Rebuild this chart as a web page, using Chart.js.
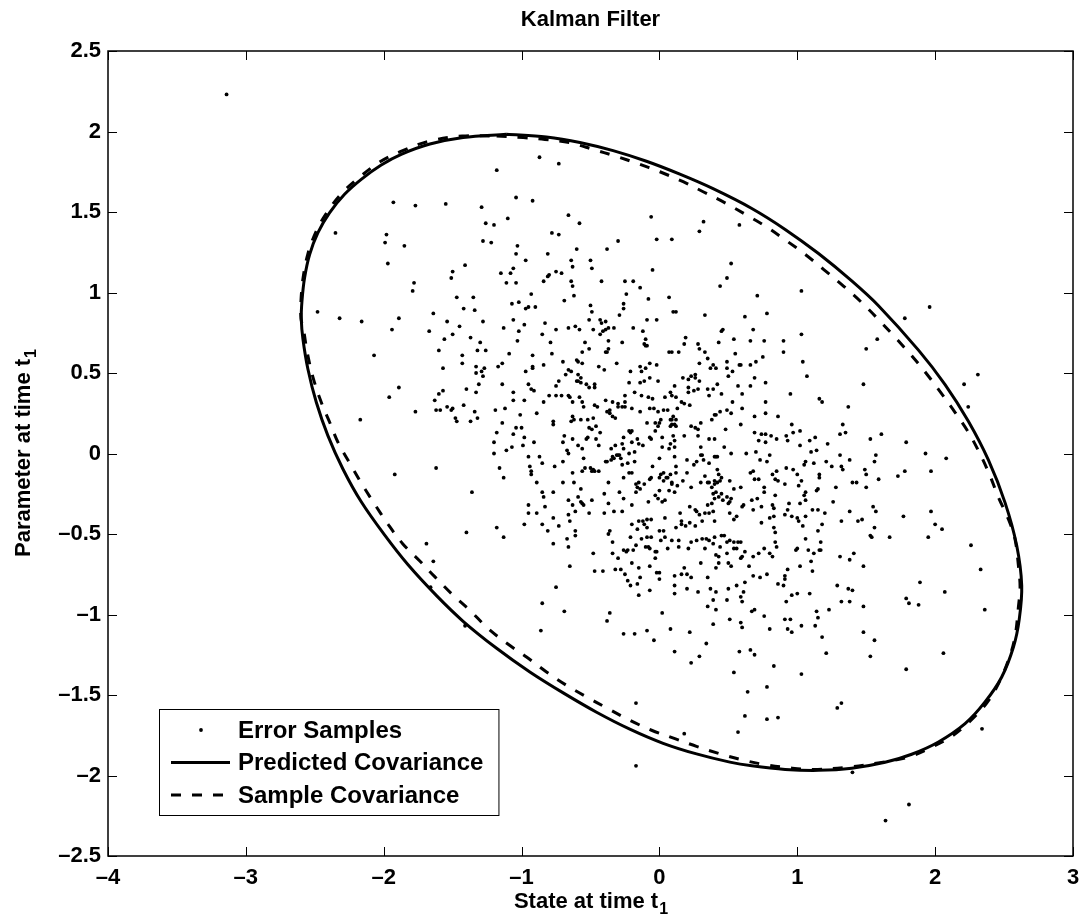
<!DOCTYPE html>
<html>
<head>
<meta charset="utf-8">
<script src="https://cdn.jsdelivr.net/npm/chart.js@4.4.1/dist/chart.umd.min.js"></script>
<style>
  html, body { margin: 0; padding: 0; background: #fff; }
</style>
</head>
<body>
<canvas id="kalmanChart" width="1090" height="921"></canvas>
<script>
// error samples [state, parameter]
const errorSamples = [
  [-3.14,2.23],[-1.93,1.56],[-1.77,1.54],[-2.35,1.37],[-1.98,1.36],[-1.99,1.31],[-1.85,1.29],[-1.97,1.18],[-1.78,1.06],[-1.79,1.01],
  [-2.48,0.88],[-2.32,0.84],[-1.89,0.84],[-2.16,0.82],[-1.94,0.77],[-1.67,0.76],[-2.07,0.61],[-1.89,0.41],[-1.96,0.35],[-1.77,0.26],
  [-2.17,0.21],[-1.92,-0.13],[-1.69,-0.56],[-1.66,-0.83],[-1.41,-1.07],
  [-0.87,1.84],[-0.73,1.80],[-1.18,1.76],[-1.55,1.55],[-1.04,1.59],[-0.92,1.57],[-1.29,1.53],[-0.66,1.48],[-1.10,1.46],[-1.26,1.43],
  [-1.20,1.42],[-0.58,1.43],[-0.06,1.47],[0.32,1.44],[0.29,1.38],[0.58,1.42],[-0.78,1.37],[-0.73,1.36],[-1.28,1.32],[-1.22,1.31],
  [-0.30,1.32],[-0.02,1.33],[0.09,1.33],[-0.38,1.27],[-0.60,1.27],[-1.03,1.29],[-1.04,1.24],[-0.81,1.24],[-0.97,1.20],[-0.64,1.20],
  [-0.50,1.20],[-1.41,1.17],[-1.50,1.13],[-1.51,1.09],[-1.15,1.12],[-1.08,1.12],[-1.06,1.15],[-0.63,1.16],[-0.49,1.15],[-0.05,1.14],
  [0.52,1.18],[0.49,1.09],[0.44,1.04],[-0.81,1.10],[-0.80,1.11],[-0.75,1.13],[-0.71,1.12],[-0.84,1.07],[-1.11,1.06],[-1.04,1.06],
  [-0.64,1.07],[-0.63,1.04],[-0.42,1.07],[-0.25,1.07],[-0.19,1.07],[-0.14,1.03],[-0.24,0.99],[-0.08,0.96],[0.07,0.97],[-1.47,0.97],
  [-1.35,0.97],[-1.42,0.90],[-1.34,0.89],[-1.64,0.87],[-0.93,0.99],[-1.07,0.93],[-1.02,0.94],[-0.97,0.90],[-0.95,0.91],[-0.90,0.91],
  [-0.69,0.95],[-0.62,0.98],[-0.50,0.92],[-0.49,0.88],[-0.26,0.93],[-0.26,0.90],[-0.29,0.86],[0.12,0.88],[0.10,0.88],[0.33,0.86],
  [0.62,0.85],
  [0.71,0.98],[1.03,1.01],[0.78,0.87],[1.96,0.91],[1.78,0.84],
  [0.68,0.77],[0.76,0.70],[0.90,0.70],[1.03,0.74],[0.90,0.63],[0.75,0.60],[0.70,0.57],[1.04,0.57],[0.69,0.47],[0.77,0.44],
  [1.07,0.48],[1.58,0.71],[1.50,0.65],[1.48,0.43],[2.31,0.49],[2.21,0.43],[2.24,0.29],[0.95,0.37],[1.16,0.34],[1.18,0.32],
  [0.77,0.32],[1.37,0.29],[0.69,0.23],[0.77,0.25],[0.86,0.23],[0.96,0.18],[1.33,0.18],[1.35,0.13],[1.31,0.12],[0.69,0.13],
  [0.74,0.12],[0.77,0.12],[0.81,0.11],[0.92,0.11],[0.97,0.13],[1.02,0.14],[0.93,0.08],[0.85,0.09],[0.72,0.08],[0.77,0.07],
  [1.02,0.05],[1.09,0.08],[1.13,0.10],[1.22,0.06],[1.53,0.09],[1.61,0.12],[1.79,0.07],[1.93,0.00],[2.08,-0.03],[0.70,0.01],
  [0.80,-0.01],[0.73,-0.04],[0.78,-0.05],[1.10,0.01],[1.14,0.02],[1.06,-0.05],[1.05,-0.07],[1.12,-0.06],[1.21,-0.05],[1.25,-0.08],
  [1.31,-0.01],[1.32,-0.08],[1.33,-0.10],[1.38,-0.04],[1.57,-0.01],[1.56,-0.05],[1.49,-0.10],[1.50,-0.13],[1.59,-0.16],[1.73,-0.14],
  [1.78,-0.11],[1.97,-0.11],[0.68,-0.11],[0.82,-0.13],[0.85,-0.11],[0.84,-0.16],[0.86,-0.17],[0.92,-0.09],[0.97,-0.10],[1.00,-0.13],
  [1.03,-0.17],[1.16,-0.13],[1.16,-0.15],[0.69,-0.16],[0.72,-0.16],[0.91,-0.19],[0.76,-0.21],[0.76,-0.24],[0.84,-0.26],[1.01,-0.20],
  [1.06,-0.24],[1.05,-0.26],[1.06,-0.29],[1.14,-0.23],[1.15,-0.22],[1.28,-0.21],[1.40,-0.18],[1.43,-0.18],[1.50,-0.21],[0.71,-0.28],
  [0.74,-0.33],[0.82,-0.32],[0.83,-0.34],[0.94,-0.31],[1.02,-0.31],[1.26,-0.30],[0.68,-0.35],[0.80,-0.40],[0.83,-0.39],[0.74,-0.43],
  [0.91,-0.38],[0.93,-0.35],[0.96,-0.39],[1.00,-0.40],[1.01,-0.42],[1.06,-0.39],[1.11,-0.35],[1.15,-0.35],[1.20,-0.37],[1.04,-0.45],
  [1.18,-0.44],[1.15,-0.48],[1.32,-0.42],[1.38,-0.36],[1.44,-0.42],[1.47,-0.41],[1.55,-0.33],[1.57,-0.36],[1.56,-0.46],[1.53,-0.51],
  [1.54,-0.52],[1.67,-0.52],[1.77,-0.39],[1.97,-0.36],[2.00,-0.44],[2.05,-0.47],[1.95,-0.52],[2.26,-0.57],[2.33,-0.72],[1.89,-0.80],
  [0.83,-0.46],[0.84,-0.49],[0.84,-0.55],[0.85,-0.58],[0.76,-0.59],[0.80,-0.62],[0.82,-0.64],[0.72,-0.62],[0.68,-0.64],[1.06,-0.53],
  [1.17,-0.55],[1.16,-0.60],[1.17,-0.60],[0.99,-0.60],[1.00,-0.59],[1.08,-0.60],[1.12,-0.62],[1.10,-0.67],[1.02,-0.70],[1.11,-0.73],
  [0.93,-0.72],[0.91,-0.76],[0.91,-0.78],[0.78,-0.75],[0.73,-0.77],[0.68,-0.76],[0.86,-0.81],[0.90,-0.82],[1.31,-0.64],[1.38,-0.66],
  [1.41,-0.62],[1.48,-0.70],[1.29,-0.82],
  [0.92,-0.92],[0.96,-0.88],[1.00,-0.87],[1.09,-0.87],[0.69,-0.97],[0.76,-1.01],[0.80,-1.09],[0.91,-1.03],[0.95,-1.03],[0.93,-1.09],
  [0.96,-1.11],[1.03,-1.07],[1.13,-1.07],[1.14,-0.98],[1.15,-1.02],[1.23,-0.97],[1.18,-1.14],[1.21,-1.24],[1.32,-0.92],[1.38,-0.92],
  [1.37,-0.84],[1.40,-0.85],[1.48,-0.95],[1.48,-1.11],[1.56,-1.16],[1.53,-1.26],[0.69,-1.25],[0.83,-1.32],[1.03,-1.37],[0.78,-1.45],
  [0.78,-1.65],[0.86,-1.64],[1.29,-1.58],[1.32,-1.55],[1.79,-0.90],[1.81,-0.93],[1.88,-0.94],[2.07,-0.86],[2.36,-0.97],[2.06,-1.24],
  [1.79,-1.34],[2.34,-1.71],[1.40,-1.98],[1.81,-2.18],[1.64,-2.28],
  [-0.85,-0.93],[-0.86,-1.10],[-0.69,-0.98],[-0.75,-0.83],[-0.36,-0.99],[-0.38,-1.04],[-0.26,-1.12],[-0.18,-1.12],[-0.09,-1.10],[-0.04,-1.16],
  [-0.15,-0.88],[-0.07,-0.85],[0.02,-0.99],[0.11,-0.87],[0.20,-0.84],[0.28,-0.86],[0.37,-0.84],[0.41,-0.86],[0.50,-0.84],[0.39,-0.91],
  [0.35,-0.95],[0.41,-0.97],[0.49,-0.91],[0.59,-0.89],[0.61,-0.86],[0.60,-0.92],[0.51,-1.03],[0.59,-1.05],[0.60,-1.08],[0.67,-0.98],
  [0.39,-1.06],[0.08,-1.09],[0.22,-1.11],[0.11,-1.23],[0.34,-1.18],[0.29,-1.26],[0.23,-1.30],[0.58,-1.23],[0.66,-1.22],[0.54,-1.36],
  [0.64,-1.48],[0.62,-1.63],[0.57,-1.73],[0.18,-1.74],[-0.17,-1.55],[-0.17,-1.94],
  [-1.54,0.82],[-1.45,0.79],[-1.28,0.82],[-1.06,0.83],[-0.98,0.80],[-0.83,0.81],[-1.56,0.71],[-1.50,0.74],[-1.37,0.72],[-1.30,0.69],
  [-1.13,0.78],[-1.02,0.76],[-1.03,0.70],[-0.85,0.74],[-0.75,0.77],[-0.66,0.78],[-0.61,0.79],[-0.58,0.77],[-0.51,0.83],[-0.48,0.77],
  [-0.43,0.83],[-0.42,0.81],[-0.39,0.82],[-0.43,0.74],[-0.41,0.76],[-0.39,0.77],[-0.37,0.78],[-0.33,0.78],[-0.27,0.69],[-0.19,0.78],
  [-0.12,0.76],[-0.10,0.71],[-0.09,0.83],[-0.02,0.83],[0.46,0.77],[0.45,0.76],[0.54,0.71],[0.66,0.70],[0.43,0.69],[0.19,0.72],
  [0.18,0.68],[0.28,0.68],[0.29,0.65],[0.33,0.63],[0.14,0.63],[0.07,0.63],[0.09,0.63],[-0.10,0.67],[-0.09,0.67],[-0.11,0.68],
  [-0.37,0.70],[-0.37,0.65],[-0.39,0.63],[-0.38,0.63],[-0.51,0.65],[-0.54,0.69],[-0.56,0.63],[-0.78,0.62],[-0.79,0.69],[-0.92,0.61],
  [-1.09,0.62],[-1.26,0.64],[-1.32,0.64],[-1.43,0.61],[-1.43,0.56],[-1.60,0.64],
  [-1.57,0.53],[-1.33,0.54],[-1.33,0.50],[-1.29,0.51],[-1.27,0.53],[-1.28,0.48],[-1.17,0.54],[-1.14,0.56],[-0.92,0.53],[-0.92,0.54],
  [-0.97,0.51],[-0.84,0.55],[-0.70,0.57],[-0.60,0.58],[-0.59,0.57],[-0.56,0.56],[-0.66,0.52],[-0.64,0.51],[-0.59,0.49],[-0.57,0.47],
  [-0.68,0.49],[-0.73,0.45],[-0.75,0.42],[-0.60,0.45],[-0.59,0.45],[-0.57,0.44],[-0.53,0.43],[-0.51,0.41],[-0.47,0.43],[-0.47,0.41],
  [-0.44,0.54],[-0.40,0.52],[-0.31,0.56],[-0.21,0.51],[-0.14,0.54],[-0.10,0.53],[-0.07,0.56],[-0.02,0.55],[-0.13,0.51],[-0.07,0.47],
  [-0.11,0.45],[-0.14,0.44],[-0.22,0.44],[-0.01,0.45],[0.17,0.47],[0.23,0.48],[0.26,0.49],[0.26,0.47],[0.29,0.45],[0.21,0.46],
  [0.21,0.41],[0.29,0.56],[0.35,0.59],[0.39,0.55],[0.41,0.53],[0.37,0.53],[0.49,0.57],[0.53,0.51],[0.58,0.55],[0.59,0.55],
  [0.50,0.48],[0.66,0.55],[0.55,0.62],[0.11,0.42],[0.21,0.38],[0.25,0.39],[0.28,0.40],[0.35,0.40],[0.39,0.40],[0.42,0.43],
  [0.45,0.37],[0.53,0.32],[0.57,0.42],[0.60,0.37],[0.66,0.42],[0.49,0.53],
  [-1.63,0.33],[-1.60,0.37],[-1.57,0.39],[-1.62,0.27],[-1.59,0.27],[-1.54,0.29],[-1.51,0.27],[-1.50,0.28],[-1.40,0.40],[-1.33,0.38],
  [-1.31,0.43],[-1.42,0.30],[-1.48,0.22],[-1.47,0.20],[-1.37,0.20],[-1.34,0.26],[-1.32,0.22],[-1.19,0.27],[-1.14,0.43],[-1.12,0.28],
  [-1.06,0.38],[-1.06,0.33],[-0.98,0.33],[-0.95,0.43],[-0.93,0.40],[-0.91,0.39],[-1.01,0.24],[-0.89,0.25],[-0.84,0.32],[-0.80,0.36],
  [-0.75,0.36],[-0.71,0.36],[-0.66,0.36],[-0.65,0.35],[-0.63,0.32],[-0.58,0.35],[-0.56,0.32],[-0.55,0.29],[-0.63,0.23],[-0.64,0.20],
  [-0.62,0.21],[-0.57,0.21],[-0.52,0.21],[-0.48,0.22],[-0.47,0.30],[-0.45,0.29],[-0.39,0.33],[-0.34,0.32],[-0.30,0.29],[-0.30,0.31],
  [-0.27,0.29],[-0.25,0.29],[-0.25,0.32],[-0.25,0.36],[-0.20,0.28],[-0.18,0.38],[-0.13,0.36],[-0.08,0.35],[-0.05,0.34],[0.04,0.35],
  [0.08,0.38],[0.09,0.36],[0.12,0.35],[0.13,0.28],[0.16,0.32],[0.22,0.30],[-0.36,0.27],[-0.36,0.25],[-0.34,0.23],[-0.32,0.22],
  [-0.38,0.26],[-0.14,0.26],[-0.07,0.28],[-0.04,0.28],[-0.01,0.26],[0.01,0.21],[0.03,0.27],[0.06,0.27],[0.09,0.21],[0.10,0.23],
  [0.12,0.21],[-0.09,0.19],[-0.03,0.19],[-0.01,0.17],[0.00,0.19],[0.08,0.17],[0.09,0.18],[0.12,0.17],[0.23,0.17],[0.26,0.16],
  [0.28,0.15],[0.30,0.19],[0.38,0.21],[0.40,0.24],[0.41,0.24],[0.44,0.26],[0.49,0.27],[0.52,0.25],[0.60,0.28],[0.18,0.31],
  [0.36,0.36],
  [-1.18,0.13],[-1.20,0.07],[-1.20,0.00],[-1.14,0.19],[-1.04,0.16],[-1.06,0.12],[-1.00,0.16],[-0.98,0.10],[-1.11,0.02],[-1.07,0.04],
  [-0.99,0.05],[-0.91,0.07],[-0.95,-0.02],[-0.94,-0.08],[-0.87,-0.02],[-0.85,-0.06],[-0.77,0.18],[-0.77,0.20],[-0.69,0.11],[-0.70,0.07],
  [-0.67,0.02],[-0.66,0.00],[-0.63,0.09],[-0.59,0.05],[-0.56,0.03],[-0.53,0.09],[-0.51,0.16],[-0.49,0.15],[-0.46,0.17],[-0.43,0.13],
  [-0.52,0.10],[-0.44,0.05],[-0.46,0.09],[-0.35,0.03],[-0.32,0.05],[-0.34,-0.02],[-0.33,-0.03],[-0.30,-0.01],[-0.28,-0.03],[-0.29,-0.01],
  [-0.27,0.06],[-0.26,0.10],[-0.26,0.03],[-0.22,0.14],[-0.21,0.13],[-0.20,0.14],[-0.20,0.07],[-0.22,0.00],[-0.18,0.01],[-0.16,0.09],
  [-0.15,0.06],[-0.12,0.05],[-0.07,0.10],[-0.06,0.09],[-0.03,0.14],[0.02,0.10],[0.02,0.04],[0.07,0.03],[0.08,0.06],[0.10,0.11],
  [0.11,0.08],[0.11,0.04],[0.11,-0.02],[0.18,0.11],[0.28,0.11],[0.30,0.04],[0.36,0.09],[0.40,0.09],[0.41,-0.02],[0.47,0.04],
  [0.52,0.00],[0.63,0.00],[0.59,0.18],[0.48,0.15],[0.11,0.18],[0.08,0.21],
  [-1.62,-0.09],[-1.36,-0.24],[-1.16,-0.09],[-1.13,-0.15],[-0.93,-0.11],[-0.93,-0.13],[-0.89,-0.18],[-0.76,-0.08],[-0.70,-0.05],[-0.70,-0.18],
  [-0.63,-0.12],[-0.62,-0.18],[-0.57,-0.22],[-0.56,-0.11],[-0.55,-0.03],[-0.54,-0.09],[-0.50,-0.09],[-0.49,-0.11],[-0.48,-0.10],[-0.47,-0.11],
  [-0.44,-0.11],[-0.39,-0.05],[-0.38,-0.05],[-0.37,-0.18],[-0.35,-0.04],[-0.31,-0.01],[-0.27,-0.07],[-0.26,-0.15],[-0.23,-0.06],[-0.22,-0.12],
  [-0.20,-0.12],[-0.18,-0.05],[-0.17,-0.19],[-0.16,-0.21],[-0.15,-0.18],[-0.14,-0.22],[-0.11,-0.19],[-0.07,-0.16],[-0.06,-0.15],[-0.05,-0.08],
  [0.00,-0.03],[0.00,-0.15],[0.01,-0.13],[0.03,-0.12],[0.03,-0.17],[0.05,-0.15],[0.06,-0.15],[0.08,-0.13],[0.09,-0.18],[0.09,-0.19],
  [0.12,-0.08],[0.12,-0.12],[0.13,-0.20],[0.07,-0.23],[0.11,-0.24],[0.20,-0.12],[0.20,-0.04],[0.25,-0.07],[0.27,-0.05],[0.30,-0.01],
  [0.31,-0.01],[0.32,-0.04],[0.36,-0.06],[0.40,-0.02],[0.42,-0.02],[0.42,-0.10],[0.43,-0.13],[0.40,-0.17],[0.42,-0.18],[0.40,-0.19],
  [0.44,-0.17],[0.45,-0.15],[0.51,-0.17],[0.54,-0.22],[0.59,-0.21],[0.33,-0.14],[0.30,-0.18],[0.35,-0.18],[0.36,-0.18],[0.38,-0.21],
  [0.23,-0.21],[0.66,-0.12],[0.17,-0.17],
  [-0.85,-0.24],[-0.84,-0.27],[-0.77,-0.24],[-0.83,-0.33],[-0.95,-0.32],[-0.95,-0.37],[-0.89,-0.37],[-0.98,-0.44],[-0.85,-0.44],[-0.81,-0.48],
  [-0.77,-0.40],[-0.73,-0.45],[-0.66,-0.29],[-0.63,-0.32],[-0.59,-0.27],[-0.57,-0.30],[-0.56,-0.31],[-0.55,-0.32],[-0.61,-0.36],[-0.49,-0.29],
  [-0.51,-0.37],[-0.40,-0.25],[-0.40,-0.37],[-0.37,-0.31],[-0.33,-0.36],[-0.29,-0.24],[-0.27,-0.36],[-0.26,-0.28],[-0.20,-0.32],[-0.17,-0.24],
  [-0.08,-0.30],[-0.03,-0.26],[-0.01,-0.28],[0.02,-0.30],[0.00,-0.23],[0.04,-0.29],[0.15,-0.37],[0.22,-0.33],[0.26,-0.35],[0.27,-0.36],
  [0.35,-0.32],[0.38,-0.31],[0.33,-0.37],[0.39,-0.36],[0.40,-0.28],[0.45,-0.25],[0.49,-0.27],[0.52,-0.28],[0.46,-0.29],[0.50,-0.31],
  [0.51,-0.30],[0.39,-0.25],[0.29,-0.38],[0.31,-0.42],[0.36,-0.37],[0.40,-0.42],[0.43,-0.27],[0.41,-0.24],[0.51,-0.37],[0.56,-0.39],
  [0.60,-0.33],[0.61,-0.32],[0.67,-0.29],[0.54,-0.41],[0.12,-0.46],[0.16,-0.44],[0.19,-0.45],[0.22,-0.43],[0.26,-0.45],[0.16,-0.42],
  [0.04,-0.40],[-0.12,-0.42],[-0.20,-0.44],[-0.15,-0.42],[-0.11,-0.44],[-0.09,-0.46],[-0.09,-0.41],[-0.06,-0.41],[-0.16,-0.47],[0.00,-0.48],
  [0.03,-0.48],[0.04,-0.52],
  [-0.65,-0.42],[-0.66,-0.38],[-0.67,-0.53],[-0.61,-0.51],[-0.61,-0.48],[-0.66,-0.58],[-0.77,-0.56],[-1.18,-0.46],[-1.13,-0.52],[-1.40,-0.49],
  [-0.37,-0.50],[-0.36,-0.48],[-0.34,-0.55],[-0.21,-0.52],[-0.17,-0.57],[-0.13,-0.53],[-0.10,-0.58],[-0.08,-0.58],[-0.07,-0.59],[-0.09,-0.52],
  [-0.06,-0.52],[-0.03,-0.61],[-0.02,-0.61],[0.06,-0.59],[0.09,-0.54],[0.14,-0.58],[0.14,-0.54],[0.23,-0.55],[0.27,-0.54],[0.31,-0.53],
  [0.34,-0.53],[0.36,-0.54],[0.39,-0.56],[0.40,-0.52],[0.45,-0.51],[0.47,-0.51],[0.49,-0.55],[0.51,-0.54],[0.54,-0.55],[0.57,-0.55],
  [0.59,-0.55],[0.62,-0.61],[0.60,-0.64],[0.56,-0.59],[0.54,-0.59],[0.44,-0.58],[0.41,-0.63],[0.43,-0.64],[0.49,-0.62],[0.33,-0.59],
  [0.21,-0.59],[-0.23,-0.60],[-0.26,-0.60],[-0.34,-0.62],[-0.30,-0.65],[-0.24,-0.61],[-0.19,-0.60],[0.01,-0.54],
  [-1.64,-0.67],[-0.65,-0.70],[-0.48,-0.62],[-0.47,-0.73],[-0.41,-0.73],[-0.32,-0.72],[-0.28,-0.72],[-0.25,-0.75],[-0.23,-0.79],[-0.20,-0.68],
  [-0.16,-0.81],[-0.15,-0.71],[-0.14,-0.77],[-0.07,-0.70],[-0.03,-0.65],[-0.02,-0.74],[0.00,-0.74],[0.00,-0.78],[0.11,-0.76],[0.16,-0.75],
  [0.18,-0.71],[0.20,-0.75],[0.23,-0.77],[0.30,-0.68],[0.35,-0.77],[0.41,-0.71],[0.43,-0.68],[0.50,-0.68],[0.52,-0.70],[0.59,-0.65],
  [0.65,-0.70],[0.62,-0.80],[0.56,-0.82],[-0.21,-0.82],[0.11,-0.82]
];

// predicted covariance contour, traced clockwise from the top
const predictedCov = [
  [-1.11,1.983],[-0.82,1.966],[-0.577,1.932],[-0.336,1.881],[-0.094,1.815],[0.148,1.735],[0.389,1.645],[0.67,1.522],
  [0.912,1.392],[1.154,1.242],[1.395,1.072],[1.589,0.918],[1.879,0.642],[2.072,0.428],[2.241,0.2],
  [2.386,-0.04],[2.507,-0.305],[2.592,-0.573],[2.628,-0.821],[2.61,-1.03],[2.568,-1.202],[2.483,-1.388],[2.362,-1.543],
  [2.217,-1.678],[2.024,-1.792],[1.83,-1.868],[1.637,-1.918],[1.395,-1.955],[1.154,-1.968],[0.912,-1.962],[0.67,-1.94],
  [0.511,-1.917],[0.269,-1.866],[0.027,-1.8],[-0.215,-1.712],[-0.456,-1.607],[-0.698,-1.487],[-0.94,-1.357],[-1.181,-1.21],
  [-1.424,-1.042],[-1.617,-0.883],[-1.825,-0.69],[-1.994,-0.506],[-2.163,-0.3],[-2.296,-0.096],[-2.405,0.111],
  [-2.489,0.318],[-2.55,0.525],[-2.586,0.711],[-2.598,0.835],[-2.593,0.947],[-2.574,1.092],[-2.537,1.237],[-2.477,1.372],
  [-2.392,1.496],[-2.284,1.61],[-2.163,1.703],[-2.018,1.792],[-1.873,1.858],[-1.665,1.922],[-1.424,1.963],[-1.11,1.983]
];

// sample covariance contour, same direction
const sampleCov = [
  [-1.181,1.972],[-0.988,1.962],[-0.831,1.951],[-0.65,1.93],[-0.481,1.889],[-0.323,1.848],[-0.154,1.8],[0.003,1.75],
  [0.172,1.688],[0.317,1.626],[0.487,1.552],[0.632,1.481],[0.767,1.413],[0.924,1.32],[1.057,1.237],[1.19,1.144],
  [1.335,1.04],[1.468,0.937],[1.577,0.843],[1.709,0.722],[1.83,0.607],[1.939,0.494],[2.048,0.37],[2.144,0.256],
  [2.241,0.132],[2.326,-0.003],[2.398,-0.138],[2.459,-0.272],[2.531,-0.407],[2.579,-0.531],[2.604,-0.697],[2.616,-0.829],
  [2.604,-0.953],[2.579,-1.14],[2.531,-1.285],[2.459,-1.43],[2.374,-1.55],[2.253,-1.663],[2.12,-1.757],[1.963,-1.829],
  [1.806,-1.885],[1.6,-1.92],[1.37,-1.948],[1.117,-1.962],[0.948,-1.953],[0.767,-1.933],[0.595,-1.902],[0.438,-1.865],
  [0.269,-1.819],[0.112,-1.771],[-0.057,-1.719],[-0.215,-1.657],[-0.372,-1.585],[-0.529,-1.512],[-0.674,-1.44],[-0.819,-1.357],
  [-0.964,-1.264],[-1.097,-1.185],[-1.242,-1.088],[-1.375,-0.974],[-1.508,-0.871],[-1.63,-0.765],[-1.74,-0.666],[-1.861,-0.562],[-1.97,-0.438],
  [-2.066,-0.314],[-2.151,-0.2],[-2.236,-0.076],[-2.332,0.07],[-2.392,0.194],[-2.453,0.318],[-2.513,0.473],[-2.555,0.629],
  [-2.58,0.76],[-2.6,0.84],[-2.6,0.95],[-2.585,1.09],[-2.55,1.24],[-2.49,1.38],[-2.41,1.5],[-2.3,1.62],
  [-2.17,1.72],[-2.03,1.81],[-1.88,1.875],[-1.67,1.94],[-1.43,1.972],[-1.181,1.972]
];

const xTicks = [-4, -3, -2, -1, 0, 1, 2, 3];
const yTicks = [-2.5, -2, -1.5, -1, -0.5, 0, 0.5, 1, 1.5, 2, 2.5];
const seriesNames = ["Error Samples", "Predicted Covariance", "Sample Covariance"];

const FONT = "'Liberation Sans', Arial, Helvetica, sans-serif";
const toXY = (arr) => arr.map((p) => ({ x: p[0], y: p[1] }));
const fmtTick = (v) => (v < 0 ? "\u2013" + String(-v) : String(v));

// matlab style box, inward ticks, title, axis labels with subscripts and legend
const matlabLook = {
  id: "matlabLook",
  afterDraw(chart) {
    const { ctx, chartArea: a, scales } = chart;
    ctx.save();

    ctx.strokeStyle = "#000";
    ctx.lineWidth = 1;
    const tl = 9;
    ctx.beginPath();
    scales.x.ticks.forEach((t) => {
      const px = Math.round(scales.x.getPixelForValue(t.value)) + 0.5;
      ctx.moveTo(px, a.bottom); ctx.lineTo(px, a.bottom - tl);
      ctx.moveTo(px, a.top); ctx.lineTo(px, a.top + tl);
    });
    scales.y.ticks.forEach((t) => {
      const py = Math.round(scales.y.getPixelForValue(t.value)) + 0.5;
      ctx.moveTo(a.left, py); ctx.lineTo(a.left + tl, py);
      ctx.moveTo(a.right, py); ctx.lineTo(a.right - tl, py);
    });
    ctx.stroke();
    ctx.lineWidth = 1.5;
    ctx.strokeRect(a.left, a.top, a.right - a.left, a.bottom - a.top);

    const midX = (a.left + a.right) / 2;
    ctx.fillStyle = "#000";
    ctx.textAlign = "center";
    ctx.textBaseline = "middle";
    ctx.font = "bold 22px " + FONT;
    ctx.fillText("Kalman Filter", midX, 20);

    // axis labels
    ctx.textBaseline = "alphabetic";
    const big = "bold 22px " + FONT, small = "bold 16px " + FONT;
    const drawSub = (main, sub, cx, baseY) => {
      ctx.font = big;
      const w1 = ctx.measureText(main).width;
      ctx.font = small;
      const w2 = ctx.measureText(sub).width;
      const x0 = cx - (w1 + w2) / 2;
      ctx.font = big;
      ctx.textAlign = "left";
      ctx.fillText(main, x0, baseY);
      ctx.font = small;
      ctx.fillText(sub, x0 + w1 + 1, baseY + 6);
    };
    drawSub("State at time t", "1", midX, 908);
    ctx.save();
    ctx.translate(30, (a.top + a.bottom) / 2);
    ctx.rotate(-Math.PI / 2);
    drawSub("Parameter at time t", "1", 0, 0);
    ctx.restore();

    // legend box
    const lf = "bold 24px " + FONT;
    ctx.font = lf;
    const textW = Math.max(...seriesNames.map((s) => ctx.measureText(s).width));
    const bx = a.left + 51, by = a.bottom - 147;
    const bw = 79 + textW + 15, bh = 106;
    ctx.fillStyle = "#fff";
    ctx.fillRect(bx, by, bw, bh);
    ctx.lineWidth = 1;
    ctx.strokeStyle = "#000";
    ctx.strokeRect(bx + 0.5, by + 0.5, bw, bh);
    ctx.fillStyle = "#000";
    ctx.textAlign = "left";
    ctx.textBaseline = "middle";
    chart.data.datasets.forEach((ds, i) => {
      const cy = by + 21 + i * 32.5;
      if (i === 0) {
        ctx.beginPath();
        ctx.arc(bx + 42, cy, 1.9, 0, Math.PI * 2);
        ctx.fill();
      } else {
        ctx.lineWidth = ds.borderWidth;
        ctx.setLineDash(ds.borderDash || []);
        ctx.beginPath();
        ctx.moveTo(bx + 12, cy);
        ctx.lineTo(bx + 71, cy);
        ctx.stroke();
        ctx.setLineDash([]);
      }
      ctx.font = lf;
      ctx.fillText(ds.label, bx + 79, cy + 1);
    });
    ctx.restore();
  }
};

new Chart(document.getElementById("kalmanChart"), {
  type: "scatter",
  data: {
    datasets: [
      {
        label: seriesNames[0],
        data: toXY(errorSamples),
        pointRadius: 1.9,
        pointBorderWidth: 0,
        pointBackgroundColor: "#000",
        showLine: false,
      },
      {
        label: seriesNames[1],
        data: toXY(predictedCov),
        showLine: true,
        borderColor: "#000",
        borderWidth: 3,
        pointRadius: 0,
        tension: 0.35,
      },
      {
        label: seriesNames[2],
        data: toXY(sampleCov),
        showLine: true,
        borderColor: "#000",
        borderWidth: 3,
        borderDash: [10, 11],
        pointRadius: 0,
        tension: 0.35,
      },
    ],
  },
  options: {
    responsive: false,
    animation: false,
    layout: { padding: { left: 8, right: 17, top: 51, bottom: 0 } },
    plugins: {
      legend: { display: false },
      tooltip: { enabled: false },
      title: { display: false },
    },
    scales: {
      x: {
        type: "linear",
        min: -4,
        max: 3,
        afterBuildTicks: (s) => { s.ticks = xTicks.map((v) => ({ value: v })); },
        afterFit: (s) => { s.height = 65; },
        grid: { display: false, drawTicks: false },
        border: { display: false },
        ticks: {
          color: "#000",
          padding: 9,
          maxRotation: 0,
          font: { family: FONT, size: 22, weight: "bold" },
          callback: (v) => fmtTick(v),
        },
      },
      y: {
        type: "linear",
        min: -2.5,
        max: 2.5,
        afterBuildTicks: (s) => { s.ticks = yTicks.map((v) => ({ value: v })); },
        afterFit: (s) => { s.width = 100; },
        grid: { display: false, drawTicks: false },
        border: { display: false },
        ticks: {
          color: "#000",
          padding: 7,
          font: { family: FONT, size: 22, weight: "bold" },
          callback: (v) => fmtTick(v),
        },
      },
    },
  },
  plugins: [matlabLook],
});
</script>
</body>
</html>
